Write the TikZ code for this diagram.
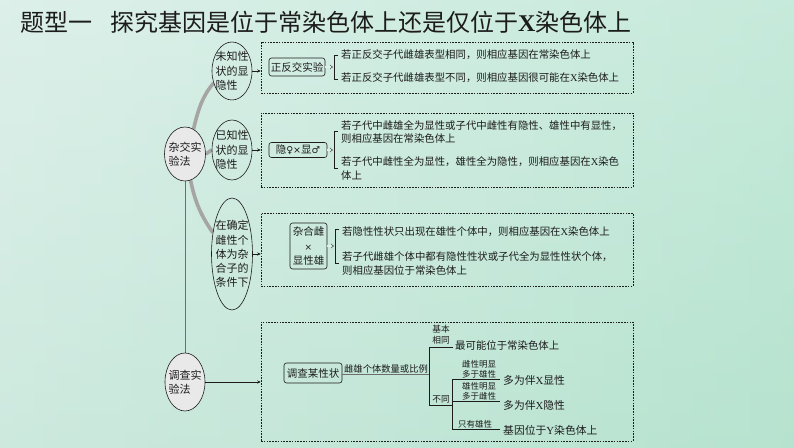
\documentclass[tikz,border=0pt]{standalone}
\usepackage{fontspec}
\setmainfont{Noto Sans CJK SC}
\newfontfamily\lat{Liberation Serif}
\newfontfamily\sym{DejaVu Sans}
\usetikzlibrary{shapes.geometric,arrows.meta}
\definecolor{bgA}{RGB}{221,240,234}
\definecolor{bgB}{RGB}{186,231,211}
\definecolor{bgC}{RGB}{176,220,200}
\definecolor{arcgray}{RGB}{165,165,165}
\definecolor{ink}{RGB}{28,28,28}
\definecolor{ellfill}{RGB}{233,233,233}
\definecolor{vline}{RGB}{110,110,110}
\pgfdeclarelayer{bg}
\pgfsetlayers{bg,main}
\begin{document}
\begin{tikzpicture}[x=1pt,y=-1pt,
  oval/.style={ellipse, draw=ink, line width=0.6pt, inner sep=0pt},
  ovaltext/.style={align=left, inner sep=0pt, text=ink, font=\fontsize{11}{14.2}\selectfont},
  dbox/.style={draw=ink, line width=0.5pt, dash pattern=on 1.6pt off 1.2pt, minimum width=372pt, inner sep=0pt},
  rbox/.style={draw=ink, rounded corners=2.5pt, line width=0.6pt, inner sep=0pt, align=center, text=ink, font=\fontsize{10.5}{14.5}\selectfont},
  txt/.style={anchor=west, inner sep=0pt, align=left, text=ink, font=\fontsize{10.4}{13.5}\selectfont},
  tmid/.style={anchor=west, inner sep=0pt, text=ink, font=\fontsize{10.8}{13}\selectfont},
  tsmall/.style={anchor=south, inner sep=0pt, align=center, text=ink, font=\fontsize{8.7}{10.2}\selectfont},
  linkarrow/.style={draw=ink, line width=0.5pt, -{Stealth[length=3.5pt,width=3pt]}},
  dblarrow/.style={draw=ink, line width=0.35pt, double=bgA, double distance=1.1pt, -{Implies}},
  treeline/.style={draw=ink, line width=0.6pt},
  grayarc/.style={draw=arcgray, line width=3.6pt},
]
\useasboundingbox (0,0) rectangle (794,447);
\begin{pgfonlayer}{bg}
\shade[top color=bgA, bottom color=bgC] (0,0) rectangle (794,447);
\shade[left color=bgA, right color=bgB, opacity=0.65] (0,0) rectangle (794,447);
\end{pgfonlayer}

% title
\node[anchor=west, inner sep=0pt, text=ink, font=\fontsize{24}{24}\selectfont] (title) at (20,22)
  {题型一\hspace{18pt}探究基因是位于常染色体上还是仅位于{\lat\bfseries X}染色体上};

% main ellipses
\node[oval, fill=ellfill, minimum width=41pt, minimum height=54pt,
  label={[ovaltext]center:杂交实\\验法}] (zj) at (185,154) {};
\node[oval, fill=ellfill, minimum width=40pt, minimum height=58pt,
  label={[ovaltext]center:调查实\\验法}] (dc) at (185,382) {};

% secondary ellipses
\node[oval, minimum width=40pt, minimum height=58pt,
  label={[ovaltext]center:未知性\\状的显\\隐性}] (e1) at (232,71) {};
\node[oval, minimum width=40pt, minimum height=60pt,
  label={[ovaltext]center:已知性\\状的显\\隐性}] (e2) at (232,150) {};
\node[oval, minimum width=41pt, minimum height=112pt,
  label={[ovaltext]center:在确定\\雌性个\\体为杂\\合子的\\条件下}] (e3) at (232,254) {};

% grey arcs and connector lines
\begin{pgfonlayer}{bg}
\draw[grayarc] (zj.71) .. controls +(5,-22) and +(-10,12) .. (e1.213);
\draw[grayarc] (zj.-78) .. controls +(5,25) and +(-10,-15) .. (e3.132);
\draw[grayarc] (zj.east) -- (e2.west);
\draw[draw=vline, line width=0.8pt] (zj.south) -- (dc.north);
\end{pgfonlayer}

% dashed boxes
\node[dbox, minimum height=51pt] (b1) at (447,67.5) {};
\node[dbox, minimum height=74pt] (b2) at (447,150) {};
\node[dbox, minimum height=73pt] (b3) at (447,249.5) {};
\node[dbox, minimum height=119pt] (b4) at (447,381.5) {};

\draw[linkarrow] (e1.east) -- (e1.east -| b1.west);
\draw[linkarrow] (e2.east) -- (e2.east -| b2.west);
\draw[linkarrow] (e3.east) -- (e3.east -| b3.west);
\draw[linkarrow] (dc.east) -- (dc.east -| b4.west);

% box 1
\node[rbox, minimum width=56pt, minimum height=18pt] (r1) at (297,67) {正反交实验};
\coordinate (k1) at (333,67);
\draw[dblarrow] (r1.east) -- (r1.east -| k1);
\coordinate (k1a) at (338,55);
\coordinate (k1b) at (338,79);
\draw[treeline, line width=0.5pt] (k1a) -- ++(-4,0) |- (k1b);
\node[txt] (t1a) at (341,55) {若正反交子代雌雄表型相同，则相应基因在常染色体上};
\node[txt] (t1b) at (341,78) {若正反交子代雌雄表型不同，则相应基因很可能在{\lat X}染色体上};

% box 2
\node[rbox, minimum width=58pt, minimum height=15pt] (r2) at (298,150) {隐{\sym\fontsize{9.5}{10}\selectfont ♀×}显{\sym\fontsize{9.5}{10}\selectfont ♂}};
\coordinate (k2) at (333,150);
\draw[dblarrow] (r2.east) -- (r2.east -| k2);
\coordinate (k2a) at (338,131);
\coordinate (k2b) at (338,168);
\draw[treeline, line width=0.5pt] (k2a) -- ++(-4,0) |- (k2b);
\node[txt] (t2a) at (341,132) {若子代中雌雄全为显性或子代中雌性有隐性、雄性中有显性，\\则相应基因在常染色体上};
\node[txt] (t2b) at (341,168.5) {若子代中雌性全为显性，雄性全为隐性，则相应基因在{\lat X}染色\\体上};

% box 3
\node[rbox, minimum width=37pt, minimum height=46pt] (r3) at (308.5,246) {杂合雌\\{\sym\fontsize{9}{10}\selectfont ×}\\显性雄};
\coordinate (k3) at (334,246);
\draw[dblarrow] (r3.east) -- (r3.east -| k3);
\coordinate (k3a) at (339,229);
\coordinate (k3b) at (339,263);
\draw[treeline, line width=0.5pt] (k3a) -- ++(-4,0) |- (k3b);
\node[txt] (t3a) at (342,232) {若隐性性状只出现在雄性个体中，则相应基因在{\lat X}染色体上};
\node[txt] (t3b) at (342,263.5) {若子代雌雄个体中都有隐性性状或子代全为显性性状个体，\\则相应基因位于常染色体上};

% box 4
\node[rbox, minimum width=58pt, minimum height=20pt] (r4) at (313,373) {调查某性状};
\coordinate (j1) at (429,374);
\draw[draw=vline, line width=0.9pt] (r4.east |- j1) -- (j1);
\node[tsmall, font=\fontsize{9.3}{10}\selectfont] (lb) at (386,373) {雌雄个体数量或比例};
\coordinate (jt) at (429,347);
\coordinate (jb) at (429,405);
\coordinate (jt2) at (453,347);
\coordinate (jb2) at (452,405);
\draw[treeline] (jt2) -- (jt) -- (jb) -- (jb2);
\coordinate (v1) at (452,379);
\coordinate (v3) at (452,429);
\draw[treeline] (v1) -- (v3);
\coordinate (h1) at (500,379);
\coordinate (h2a) at (452,401);
\coordinate (h2) at (500,401);
\coordinate (h3) at (500,429);
\draw[treeline] (v1) -- (h1);
\draw[treeline] (h2a) -- (h2);
\draw[treeline] (v3) -- (h3);

\node[tsmall] (n1) at (441,344) {基本\\相同};
\node[tsmall] (n2) at (441,403) {不同};
\node[txt] (n3) at (455,346) {最可能位于常染色体上};
\node[tsmall, font=\fontsize{8.5}{10}\selectfont] (n4) at (479,378) {雌性明显\\多于雄性};
\node[tmid] (n5) at (503,380) {多为伴{\lat X}显性};
\node[tsmall, font=\fontsize{8.5}{10}\selectfont] (n6) at (479,400) {雄性明显\\多于雌性};
\node[tmid] (n7) at (503,405) {多为伴{\lat X}隐性};
\node[tsmall, font=\fontsize{8.5}{10}\selectfont] (n8) at (475,428) {只有雄性};
\node[tmid] (n9) at (503,430) {基因位于{\lat Y}染色体上};
\end{tikzpicture}
\end{document}
